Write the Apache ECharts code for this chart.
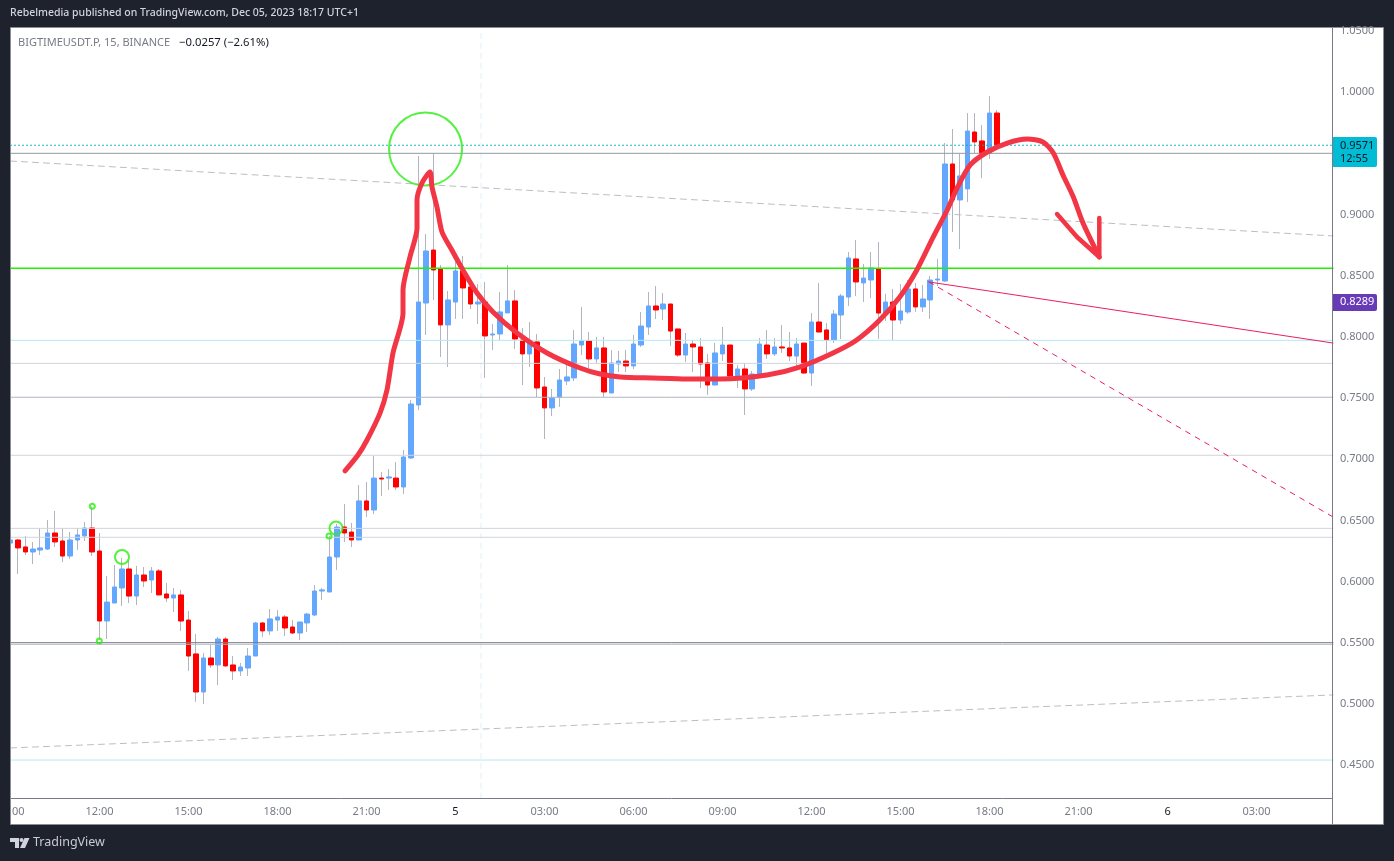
<!DOCTYPE html>
<html lang="en">
<head>
<meta charset="UTF-8">
<title>BIGTIMEUSDT.P, 15, BINANCE</title>
<script src="https://cdn.jsdelivr.net/npm/echarts@6/dist/echarts.min.js"></script>
<style>
html, body { margin: 0; padding: 0; background: #1e222d; }
#main { width: 1394px; height: 861px; }
</style>
</head>
<body>
<div id="main"></div>
<script>
// 15 minute bars, one per index, first bar is 09:00
var opens = [.6315,.6340,.6283,.6242,.6258,.6266,.6397,.6332,.6209,.6340,.6373,.6438,.6250,.5678,.5825,.5948,.6103,.5882,.6054,.6013,
  .6087,.5899,.5866,.5891,.5686,.5409,.5098,.5376,.5319,.5531,.5319,.5270,.5294,.5392,.5662,.5597,.5686,.5711,.5629,.5580,
  .5662,.5727,.5923,.5915,.6201,.6446,.6405,.6340,.6659,.6585,.6846,.6846,.6846,.6773,.7010,.7443,.8276,.8709,.8554,.8097,
  .8284,.8538,.8407,.8268,.8284,.8015,.8023,.8195,.8293,.7974,.7860,.7958,.7590,.7419,.7508,.7639,.7664,.7933,.7966,.7819,
  .7909,.7541,.7778,.7802,.7762,.7933,.8080,.8252,.8227,.8268,.8064,.7851,.7941,.7917,.7786,.7606,.7860,.7933,.7680,.7737,
  .7574,.7688,.7933,.7860,.7917,.7909,.7843,.7949,.7704,.8121,.8056,.7974,.8178,.8325,.8636,.8440,.8464,.8554,.8194,.8284,
  .8137,.8203,.8391,.8244,.8301,.8464,.8456,.9412,.9118,.9208,.9673,.9600,.9499,.9828];
var closes = [.6340,.6275,.6242,.6266,.6275,.6397,.6324,.6209,.6340,.6381,.6438,.6242,.5678,.5833,.5956,.6103,.5882,.6054,.6005,.6087,
  .5891,.5866,.5891,.5678,.5392,.5098,.5376,.5319,.5531,.5311,.5270,.5302,.5392,.5662,.5597,.5695,.5711,.5621,.5580,.5670,
  .5735,.5923,.5932,.6201,.6446,.6397,.6340,.6659,.6585,.6846,.6838,.6855,.6773,.7018,.7451,.8284,.8701,.8546,.8097,.8301,
  .8538,.8399,.8268,.8284,.8007,.8023,.8203,.8293,.7982,.7860,.7966,.7582,.7419,.7500,.7647,.7672,.7941,.7966,.7819,.7909,
  .7549,.7786,.7802,.7762,.7941,.8088,.8252,.8219,.8268,.8047,.7851,.7941,.7917,.7778,.7606,.7868,.7933,.7680,.7737,.7574,
  .7696,.7941,.7860,.7917,.7909,.7843,.7941,.7704,.8121,.8039,.7974,.8186,.8333,.8644,.8448,.8480,.8562,.8194,.8284,.8137,
  .8211,.8391,.8244,.8309,.8464,.8472,.9412,.9118,.9314,.9681,.9592,.9499,.9828,.9567];
var lows = [.6193,.6062,.6217,.6144,.6217,.6258,.6283,.6160,.6185,.6258,.6332,.6209,.5523,.5531,.5825,.5801,.5825,.5809,.5956,.5907,
  .5891,.5834,.5752,.5597,.5270,.5017,.5000,.5294,.5155,.5303,.5196,.5229,.5229,.5392,.5548,.5564,.5597,.5556,.5572,.5523,
  .5588,.5719,.5850,.5915,.6095,.6324,.6283,.6340,.6528,.6552,.6699,.6748,.6748,.6716,.7002,.7402,.8015,.8301,.7835,.7754,
  .8146,.8146,.8227,.8105,.7664,.7892,.7974,.8195,.7900,.7606,.7754,.7508,.7165,.7353,.7427,.7606,.7639,.7851,.7745,.7786,
  .7508,.7541,.7712,.7712,.7737,.7917,.8015,.8145,.8137,.7925,.7835,.7794,.7712,.7582,.7525,.7606,.7802,.7663,.7582,.7361,
  .7557,.7688,.7819,.7843,.7868,.7802,.7753,.7696,.7598,.8039,.7868,.7949,.7982,.8252,.8333,.8284,.8317,.7982,.8129,.7974,
  .8105,.8186,.8203,.8203,.8146,.8415,.8448,.8856,.8717,.9101,.9499,.9297,.9453,.9553];
var highs = [.6381,.6348,.6373,.6324,.6438,.6503,.6577,.6438,.6405,.6438,.6487,.6612,.6397,.6046,.6136,.6193,.6177,.6128,.6119,.6119,
  .6103,.5989,.5948,.5932,.5760,.5572,.5417,.5482,.5548,.5548,.5392,.5335,.5458,.5670,.5670,.5776,.5768,.5727,.5686,.5670,
  .5744,.5972,.5948,.6373,.6471,.6634,.6479,.6789,.6814,.7026,.6896,.6920,.6977,.7075,.7484,.9477,.8840,.9499,.8587,.8374,
  .8628,.8660,.8423,.8431,.8448,.8105,.8366,.8587,.8382,.8072,.8121,.8023,.7672,.7574,.7737,.7770,.8056,.8243,.8039,.8000,
  .8000,.7892,.7884,.7892,.8015,.8203,.8366,.8415,.8358,.8268,.8064,.8031,.7974,.7990,.7860,.7949,.8080,.7933,.7770,.7786,
  .7721,.7990,.8056,.7990,.8096,.8039,.7990,.7949,.8194,.8440,.8113,.8219,.8350,.8693,.8791,.8595,.8693,.8775,.8350,.8391,
  .8431,.8464,.8440,.8423,.8497,.8636,.9583,.9698,.9499,.9828,.9828,.9730,.9967,.9853];

var timeLabels = ['09:00','12:00','15:00','18:00','21:00','5','03:00','06:00','09:00','12:00','15:00','18:00','21:00','6','03:00'];

// horizontal levels
var levelValues = [.9565,.9499,.8560,.7971,.7783,.7506,.7032,.6435,.6362,.5501,.5488,.4542];
var levelColors = ['#00acc1','#9598a1','#22f000','#b2ebf2','#d1d4dc','#b2b5be','#d1d4dc','#d1d4dc','#d1d4dc','#787b86','#b2b5be','#b2ebf2'];
var levelTypes = [[1,3],'solid','solid','solid','solid','solid','solid','solid','solid','solid','solid','solid'];

// trend lines, [index, price]
var trendUpperDash = [[0,.9436],[178.31,.8824]];
var trendLowerDash = [[0,.4641],[178.31,.5074]];
var pinkSolid = [[123.84,.8448],[178.31,.7949]];
var pinkDash = [[123.84,.8448],[178.31,.6528]];
var sessionBreak = [[63.44,.4230],[63.44,1.05]];

// hand drawn strokes
var drawnCurve = [[45.1,.6904],[46.85,.7034],[48.07,.7157],[49.82,.7377],[50.76,.7565],[51.57,.7868],[52.92,.8194],[52.92,.8382],[53.86,.8652],
  [54.81,.8889],[54.81,.9118],[55.48,.9257],[56.56,.9346],[56.83,.9224],[57.5,.9060],[58.18,.8856],[59.5,.8709],[61.0,.8546],[62.9,.8358],
  [65.05,.8203],[68.3,.8031],[72.34,.7868],[76.8,.7745],[79.5,.7696],[82.2,.7672],[86.6,.7663],[91.2,.7655],[95.7,.7655],[102,.7688],
  [106.4,.7753],[110.9,.7868],[114.1,.7974],[117.2,.8137],[119.9,.8325],[122.2,.8546],[124.4,.8815],[126.3,.9036],[127.7,.9224],[129.4,.9404],
  [131.7,.9510],[134.4,.9583],[137.1,.9616],[139.2,.9592],[140.6,.9502],[141.9,.9322],[143.3,.9142],[144.6,.8930],[146.8,.8652]];
var drawnArrow = [[141.1,.9003],[143.8,.8815],[146.8,.8652],[146.8,.8971]];

// green circles, [index, price, size]
var circlePoints = [[55.96,.9534,73],[15.03,.6201,14],[43.89,.6438,13]];
var dotPoints = [[11.03,.6615],[11.97,.5515],[42.95,.6373]];

var candleData = [], bodyData = [];
for (var i = 0; i < opens.length; i++) {
  candleData.push([i, opens[i], closes[i], lows[i], highs[i]]);
  bodyData.push([i, opens[i], closes[i], Math.min(opens[i], closes[i]), Math.max(opens[i], closes[i])]);
}

function plainLine(data, color, width, type, z, smooth) {
  return {
    type: 'line', data: data, z: z, showSymbol: false, symbol: 'none', silent: true, smooth: smooth || false,
    lineStyle: { color: color, width: width, type: type, cap: 'round', join: 'round' }
  };
}

var series = [
  {
    type: 'candlestick', data: candleData, barWidth: 1, z: 2, silent: true,
    itemStyle: { color: '#b2b5be', color0: '#b2b5be', borderColor: '#b2b5be', borderColor0: '#b2b5be', borderWidth: 1 }
  },
  {
    type: 'candlestick', data: bodyData, barWidth: 5, z: 3, silent: true,
    itemStyle: { color: '#64a7ff', color0: '#ff0000', borderColor: '#64a7ff', borderColor0: '#ff0000', borderWidth: 1 }
  }
];

levelValues.forEach(function (v, k) {
  var w = levelColors[k] === '#22f000' ? 1.5 : 1;
  series.push(plainLine([[0, v], [178.31, v]], levelColors[k], w, levelTypes[k], 4));
});
series.push(plainLine(trendUpperDash, '#bbbdc6', 1, [6, 5], 4));
series.push(plainLine(trendLowerDash, '#bbbdc6', 1, [6, 5], 4));
series.push(plainLine(sessionBreak, '#e3eff5', 1, [5, 5], 1));
series.push(plainLine(pinkSolid, '#e91e63', 1, 'solid', 5));
series.push(plainLine(pinkDash, '#e91e63', 1, [5, 6], 5));
series.push(plainLine(drawnCurve, '#f23645', 5, 'solid', 7, 0.25));
series.push(plainLine(drawnArrow, '#f23645', 4.5, 'solid', 7));
series.push({
  type: 'scatter', data: circlePoints, z: 6, silent: true,
  symbolSize: function (d) { return d[2]; },
  itemStyle: { color: 'rgba(0,0,0,0)', borderColor: '#2bee10', borderWidth: 2 }
});
series.push({
  type: 'scatter', data: dotPoints, z: 6, silent: true, symbolSize: 5,
  itemStyle: { color: 'rgba(0,0,0,0)', borderColor: '#2bee10', borderWidth: 2 }
});

var uiFont = '"Noto Sans", sans-serif';

var graphic = [
  { type: 'rect', z: -10, shape: { x: 10.5, y: 27.5, width: 1373, height: 797 }, style: { fill: '#ffffff' } },
  // frame sits on top so the first time label is cut at the left edge
  { type: 'rect', z: 50, shape: { x: 0, y: 27, width: 10, height: 798 }, style: { fill: '#1e222d' } },
  { type: 'rect', z: 51, shape: { x: 10.5, y: 27.5, width: 1373, height: 797 }, style: { fill: 'none', stroke: '#8a8d97', lineWidth: 1 } },
  { type: 'line', z: 10, shape: { x1: 10, y1: 798.5, x2: 1333, y2: 798.5 }, style: { stroke: '#787b86', lineWidth: 1 } },
  { type: 'line', z: 10, shape: { x1: 1332.5, y1: 27, x2: 1332.5, y2: 825 }, style: { stroke: '#787b86', lineWidth: 1 } },
  { type: 'text', z: 20, x: 10, y: 8, style: { text: 'Rebelmedia published on TradingView.com, Dec 05, 2023 18:17 UTC+1', fill: '#d1d4dc', font: '500 10.5px ' + uiFont } },
  { type: 'text', z: 20, x: 18, y: 37, style: { text: 'BIGTIMEUSDT.P, 15, BINANCE', fill: '#787b86', font: '11px ' + uiFont } },
  { type: 'text', z: 20, x: 179, y: 37, style: { text: '\u22120.0257 (\u22122.61%)', fill: '#131722', font: '11.3px ' + uiFont } },
  // price badges
  { type: 'rect', z: 20, shape: { x: 1333, y: 137, width: 44, height: 30, r: [0, 2, 2, 0] }, style: { fill: '#00bcd4' } },
  { type: 'text', z: 21, x: 1340, y: 140, style: { text: '0.9571', fill: '#131722', font: '11px ' + uiFont } },
  { type: 'text', z: 21, x: 1340, y: 153, style: { text: '12:55', fill: '#131722', font: '11px ' + uiFont } },
  { type: 'rect', z: 20, shape: { x: 1333, y: 294, width: 44, height: 17, r: [0, 2, 2, 0] }, style: { fill: '#673ab7' } },
  { type: 'text', z: 21, x: 1340, y: 296, style: { text: '0.8289', fill: '#ffffff', font: '11px ' + uiFont } },
  // footer logo
  { type: 'polygon', z: 20, shape: { points: [[10, 838], [19, 838], [19, 848], [15, 848], [15, 842], [10, 842]] }, style: { fill: '#d1d4dc' } },
  { type: 'circle', z: 20, shape: { cx: 21.5, cy: 840, r: 2 }, style: { fill: '#d1d4dc' } },
  { type: 'polygon', z: 20, shape: { points: [[24.5, 838], [29.5, 838], [25, 848], [20, 848]] }, style: { fill: '#d1d4dc' } },
  { type: 'text', z: 20, x: 33, y: 836, style: { text: 'TradingView', fill: '#c8cbd3', font: '12.5px ' + uiFont } }
];

var chart = echarts.init(document.getElementById('main'));
chart.setOption({
  animation: false,
  backgroundColor: '#1e222d',
  tooltip: { show: false },
  legend: { show: false },
  graphic: graphic,
  grid: { left: 10.5, top: 30.8, width: 1322.5, height: 795.6, show: false, outerBoundsMode: 'none' },
  xAxis: {
    type: 'value', min: 0, max: 178.31, interval: 12, offset: -28.4, z: 5, containShape: false,
    splitLine: { show: false }, axisLine: { show: false }, axisTick: { show: false },
    axisLabel: {
      color: '#787b86', fontSize: 11, fontFamily: uiFont, margin: 8, showMaxLabel: false, showMinLabel: true, hideOverlap: false,
      formatter: function (v) {
        var label = timeLabels[Math.round(v / 12)];
        if (label === '5' || label === '6') return '{day|' + label + '}';
        return label || '';
      },
      rich: { day: { color: '#131722', fontSize: 11, fontFamily: uiFont } }
    }
  },
  yAxis: {
    type: 'value', position: 'right', min: 0.4, max: 1.05, interval: 0.05, scale: true,
    splitLine: { show: false }, axisLine: { show: false }, axisTick: { show: false },
    axisLabel: {
      color: '#787b86', fontSize: 11, fontFamily: uiFont, margin: 7, showMinLabel: false, align: 'left', padding: [4, 0, 0, 0],
      formatter: function (v) { return v.toFixed(4); }
    }
  },
  series: series
});
</script>
</body>
</html>
